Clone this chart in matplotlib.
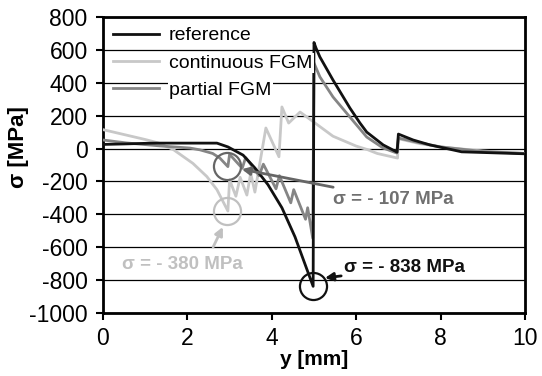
import matplotlib
matplotlib.use("Agg")
import matplotlib.pyplot as plt

plt.rcParams['font.family'] = ['Liberation Sans', 'DejaVu Sans']
plt.rcParams['axes.unicode_minus'] = False

# ---- data ----
ref_y = [0, 0.5, 1.2, 2.0, 2.7, 2.96, 3.32, 3.6, 3.91, 4.24, 4.55, 4.98,
         5.0, 5.05, 5.14, 5.45, 5.85, 6.09, 6.25, 6.64, 6.97,
         7.0, 7.35, 7.75, 8.5, 9.0, 10.0]
ref_s = [25, 28, 33, 33, 33, 10, -40, -118, -220, -360, -537, -838,
         645, 610, 557, 417, 247, 155, 100, 22, -22,
         88, 52, 22, -20, -24, -32]

cont_y = [0, 0.5, 1.0, 1.3, 1.66, 2.13, 2.46, 2.7, 2.96,
          3.0, 3.15, 3.25, 3.41, 3.5, 3.6, 3.86, 4.17, 4.24, 4.4, 4.67,
          5.0, 5.45, 6.0, 6.25, 6.5, 6.98,
          7.0, 7.5, 8.0, 9.0, 10.0]
cont_s = [115, 85, 55, 35, -5, -90, -170, -250, -380,
          -190, -290, -175, -283, -150, -265, 125, -50, 253, 155, 222,
          160, 75, 15, -5, -30, -58,
          60, 30, 10, -15, -30]

part_y = [0, 0.56, 1.35, 2.06, 2.3, 2.6, 2.77, 2.96,
          3.0, 3.3, 3.38, 3.7, 3.8, 4.1, 4.18, 4.45, 4.52, 4.8, 4.85, 4.97,
          5.0, 5.14, 5.45, 5.85, 6.25, 6.64, 6.96,
          7.0, 7.5, 8.0, 9.0, 10.0]
part_s = [52, 34, 16, 3, -8, -30, -58, -110,
          -35, -120, -55, -165, -95, -245, -165, -330, -250, -430, -360, -545,
          520, 436, 314, 192, 70, 3, -27,
          64, 35, 10, -18, -30]

series_labels = ['reference', 'continuous FGM', 'partial FGM']
series_colors = ['#111111', '#c8c8c8', '#858585']

# annotated points (y [mm], sigma [MPa], label)
mark_y = [2.93, 2.95, 4.98]
mark_s = [-107, -380, -838]
mark_labels = ['σ = - 107 MPa', 'σ = - 380 MPa', 'σ = - 838 MPa']

x_ticks = [0, 2, 4, 6, 8, 10]
y_ticks = [-1000, -800, -600, -400, -200, 0, 200, 400, 600, 800]

# ---- figure ----
fig = plt.figure(figsize=(5.42, 3.76), dpi=100)
ax = fig.add_axes([0.190, 0.1676, 0.7786, 0.7872])

ax.set_xlim(0, 10)
ax.set_ylim(-1000, 800)
ax.set_xticks(x_ticks)
ax.set_yticks(y_ticks)
ax.yaxis.grid(True, color='black', linewidth=0.9)
ax.set_axisbelow(True)
for sp in ax.spines.values():
    sp.set_linewidth(2.0)
    sp.set_color('black')
ax.tick_params(axis='both', direction='out', length=5, width=1.5,
               labelsize=16.5, pad=5)
ax.tick_params(axis='y', pad=6)

ax.plot(ref_y, ref_s, color=series_colors[0], lw=2.0, label=series_labels[0], zorder=5)
ax.plot(cont_y, cont_s, color=series_colors[1], lw=2.0, label=series_labels[1], zorder=3)
ax.plot(part_y, part_s, color=series_colors[2], lw=2.0, label=series_labels[2], zorder=4)

ax.set_xlabel('y [mm]', fontsize=15, fontweight='bold', labelpad=0)
ax.set_ylabel('σ [MPa]', fontsize=16, fontweight='bold')
ax.yaxis.set_label_coords(-0.176, 0.56)

leg = ax.legend(loc='upper left', bbox_to_anchor=(0.0, 1.0), frameon=False,
                fontsize=14, handlelength=2.4, handletextpad=0.5,
                labelspacing=0.5, borderaxespad=0.1)
for t in leg.get_texts():
    t.set_bbox(dict(facecolor='white', edgecolor='none', pad=1))

# circles around the marked points
mark_colors = ['#666666', '#c0c0c0', '#111111']
for yy, ss, c in zip(mark_y, mark_s, mark_colors):
    ax.plot([yy], [ss], marker='o', markersize=19.5, markerfacecolor='none',
            markeredgecolor=c, markeredgewidth=1.6, zorder=7, linestyle='none')

# annotations
ax.annotate(mark_labels[0], xy=(3.29, -126), xytext=(5.45, -307),
            ha='left', va='center', fontsize=13.5, fontweight='bold', color='#707070',
            arrowprops=dict(arrowstyle='-|>', color='#666666', lw=2.0,
                            shrinkA=2, shrinkB=0, mutation_scale=12), zorder=8)
ax.annotate('', xy=(2.84, -477), xytext=(2.61, -599),
            arrowprops=dict(arrowstyle='-|>', color='#c0c0c0', lw=2.0,
                            shrinkA=0, shrinkB=0, mutation_scale=12), zorder=8)
ax.text(0.45, -708, mark_labels[1], ha='left', va='center', fontsize=13.5,
        fontweight='bold', color='#c0c0c0', zorder=8)
ax.annotate(mark_labels[2], xy=(5.26, -787), xytext=(5.71, -726),
            ha='left', va='center', fontsize=13.5, fontweight='bold', color='#111111',
            arrowprops=dict(arrowstyle='-|>', color='#111111', lw=2.0,
                            shrinkA=0, shrinkB=0, mutation_scale=12), zorder=8)

fig.savefig('out.png', dpi=100)
